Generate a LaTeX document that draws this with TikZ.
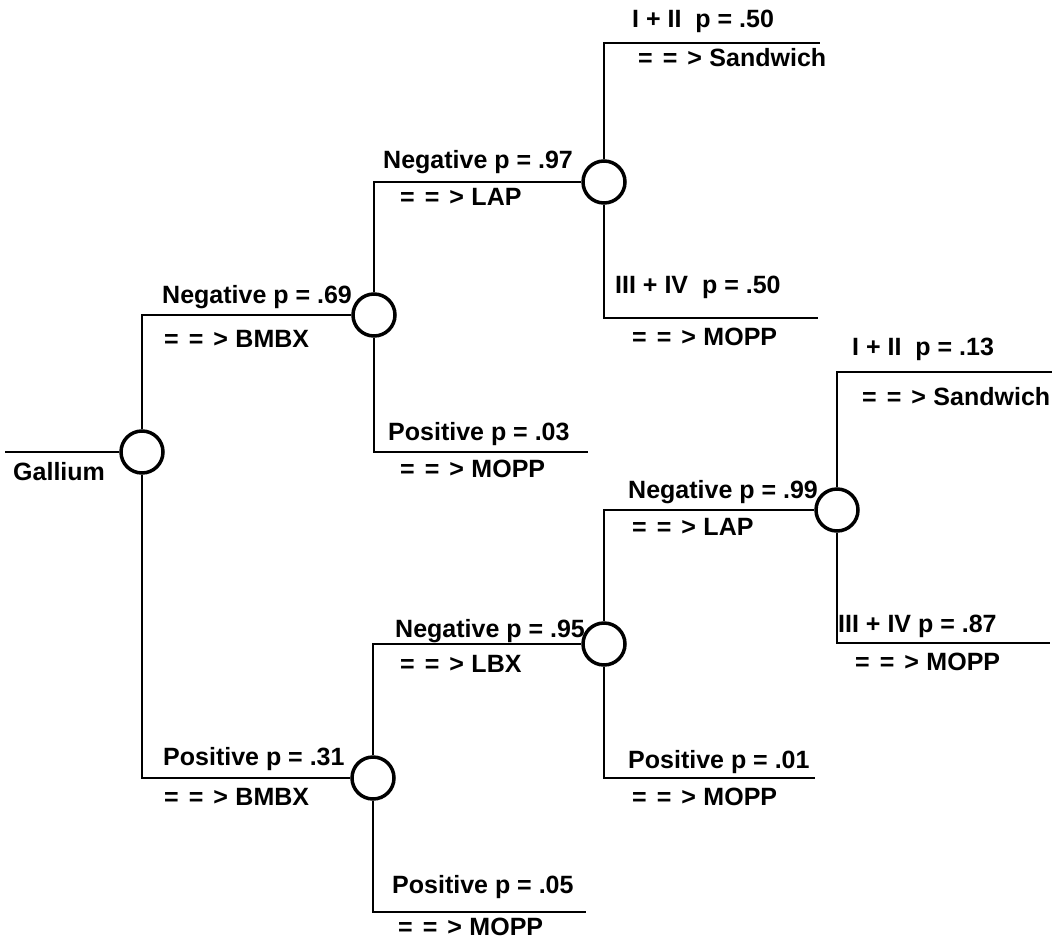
\documentclass[tikz,border=0pt]{standalone}
\usepackage{fontspec}
\setmainfont{Liberation Sans}
\newcommand{\arr}{=\hspace{0.4em}=\hspace{0.4em}>\hspace{0.3em}}
\begin{document}
\begin{tikzpicture}[x=1pt,y=-1pt,
  chance/.style={draw,circle,line width=3.5pt,minimum size=42pt,inner sep=0pt},
  branch/.style={line width=2.6pt},
  lbl/.style={anchor=base west,inner sep=0pt,font=\fontsize{25}{30}\selectfont\bfseries}]
\useasboundingbox (0,0) rectangle (1056,947);
% chance nodes
\node[chance] (g)  at (142,452) {};
\node[chance] (a)  at (374,315) {};
\node[chance] (b)  at (373,778) {};
\node[chance] (a1) at (604,182) {};
\node[chance] (b1) at (604,644) {};
\node[chance] (b2) at (837,510) {};
% free ends
\coordinate (gs) at (5,452);
\coordinate (ea) at (588,452);
\coordinate (ea1) at (820,43);
\coordinate (ea2) at (818,318);
\coordinate (eb) at (586,912);
\coordinate (eb1) at (815,778);
\coordinate (eb2) at (1052,372);
\coordinate (eb3) at (1050,643);
% connectors
\draw[branch] (gs) -- (g.west);
\draw[branch] (g.north) |- (a.west);
\draw[branch] (g.south) |- (b.west);
\draw[branch] (a.north) |- (a1.west);
\draw[branch] (a.south) |- (ea);
\draw[branch] (a1.north) |- (ea1);
\draw[branch] (a1.south) |- (ea2);
\draw[branch] (b.north) |- (b1.west);
\draw[branch] (b.south) |- (eb);
\draw[branch] (b1.north) |- (b2.west);
\draw[branch] (b1.south) |- (eb1);
\draw[branch] (b2.north) |- (eb2);
\draw[branch] (b2.south) |- (eb3);
% labels
\node[lbl] (t0) at (13,480) {Gallium};
\node[lbl] (t1) at (162,303) {Negative p = .69};
\node[lbl] (t2) at (164,347) {\arr BMBX};
\node[lbl] (t3) at (383,168) {Negative p = .97};
\node[lbl] (t4) at (400,205) {\arr LAP};
\node[lbl] (t5) at (632,28) {I + II\ \ p = .50};
\node[lbl] (t6) at (638,67) {\arr Sandwich};
\node[lbl] (t7) at (615,293) {III + IV\ \ p = .50};
\node[lbl] (t8) at (632,345) {\arr MOPP};
\node[lbl] (t9) at (388,440) {Positive p = .03};
\node[lbl] (t10) at (400,477) {\arr MOPP};
\node[lbl] (t11) at (163,765) {Positive p = .31};
\node[lbl] (t12) at (164,805) {\arr BMBX};
\node[lbl] (t13) at (395,637) {Negative p = .95};
\node[lbl] (t14) at (400,672) {\arr LBX};
\node[lbl] (t15) at (392,893) {Positive p = .05};
\node[lbl] (t16) at (398,935) {\arr MOPP};
\node[lbl] (t17) at (628,498) {Negative p = .99};
\node[lbl] (t18) at (632,535) {\arr LAP};
\node[lbl] (t19) at (628,768) {Positive p = .01};
\node[lbl] (t20) at (632,805) {\arr MOPP};
\node[lbl] (t21) at (852,355) {I + II\ \ p = .13};
\node[lbl] (t22) at (862,405) {\arr Sandwich};
\node[lbl] (t23) at (838,632) {III + IV p = .87};
\node[lbl] (t24) at (855,670) {\arr MOPP};
\end{tikzpicture}
\end{document}
